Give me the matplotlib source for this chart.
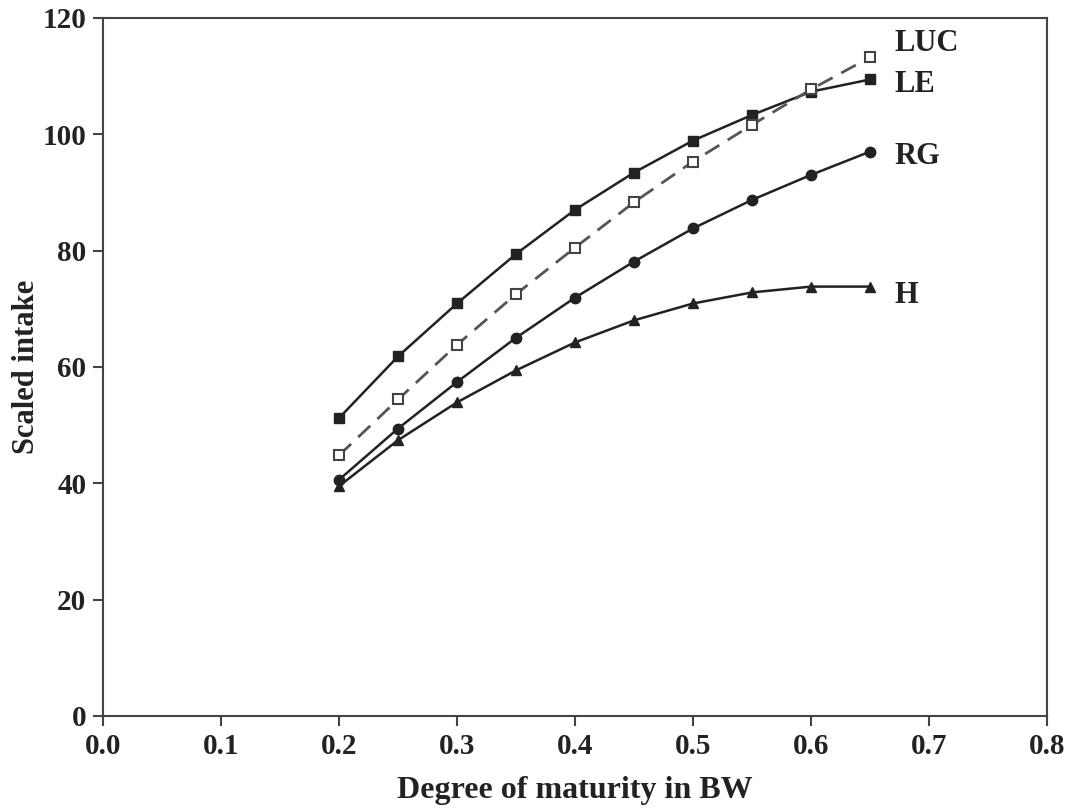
import matplotlib
matplotlib.use("Agg")
import matplotlib.pyplot as plt

# Data
maturity = [0.20, 0.25, 0.30, 0.35, 0.40, 0.45, 0.50, 0.55, 0.60, 0.65]
intake_LUC = [44.8, 54.4, 63.8, 72.5, 80.5, 88.3, 95.3, 101.6, 107.7, 113.2]
intake_LE = [51.2, 61.8, 70.9, 79.4, 87.0, 93.4, 98.9, 103.3, 107.3, 109.4]
intake_RG = [40.6, 49.4, 57.4, 65.0, 71.9, 78.1, 83.8, 88.7, 93.0, 97.0]
intake_H = [39.5, 47.4, 53.9, 59.4, 64.2, 68.0, 70.9, 72.8, 73.8, 73.8]
labels = ["LUC", "LE", "RG", "H"]
x_ticks = [0.0, 0.1, 0.2, 0.3, 0.4, 0.5, 0.6, 0.7, 0.8]
y_ticks = [0, 20, 40, 60, 80, 100, 120]

plt.rcParams['font.family'] = ['Liberation Serif', 'DejaVu Serif']
plt.rcParams['font.weight'] = 'bold'

fig = plt.figure(figsize=(10.73, 8.09), dpi=100)
ax = fig.add_axes([0.096, 0.115, 0.8798, 0.863])

dark = "#222222"
ax.plot(maturity, intake_LE, color=dark, lw=1.8, marker='s', ms=7.5,
        markerfacecolor=dark, markeredgecolor=dark, zorder=3)
ax.plot(maturity, intake_LUC, color="#555555", lw=2.0, ls=(0, (6, 3.5)), marker='s', ms=7.5,
        markerfacecolor="white", markeredgecolor="#444444", markeredgewidth=1.5, zorder=4)
ax.plot(maturity, intake_RG, color=dark, lw=1.8, marker='o', ms=7.5,
        markerfacecolor=dark, markeredgecolor=dark, zorder=3)
ax.plot(maturity, intake_H, color=dark, lw=1.8, marker='^', ms=7,
        markerfacecolor=dark, markeredgecolor=dark, zorder=3)

label_y = [intake_LUC[-1] + 2.3, intake_LE[-1] - 0.8, intake_RG[-1] - 0.8, intake_H[-1] - 1.5]
for lab, yv in zip(labels, label_y):
    ax.text(0.6595 + 0.0115, yv, lab, fontsize=22, fontweight='bold', color=dark,
            va='center', ha='left')

ax.set_xlim(0, 0.8)
ax.set_ylim(0, 120)
ax.set_xticks(x_ticks)
ax.set_xticklabels([f"{v:.1f}" for v in x_ticks])
ax.set_yticks(y_ticks)
ax.set_yticklabels([str(v) for v in y_ticks])
ax.tick_params(direction='out', length=7, width=1.5, color="#444444",
               labelsize=21, pad=5, labelcolor=dark)
for lab in ax.get_xticklabels() + ax.get_yticklabels():
    lab.set_fontweight('bold')
for s in ax.spines.values():
    s.set_linewidth(1.5)
    s.set_color("#444444")

ax.set_xlabel("Degree of maturity in BW", fontsize=23, fontweight='bold', color=dark, labelpad=12)
ax.set_ylabel("Scaled intake", fontsize=22, fontweight='bold', color=dark, labelpad=1)

fig.savefig("out.png", dpi=100)
